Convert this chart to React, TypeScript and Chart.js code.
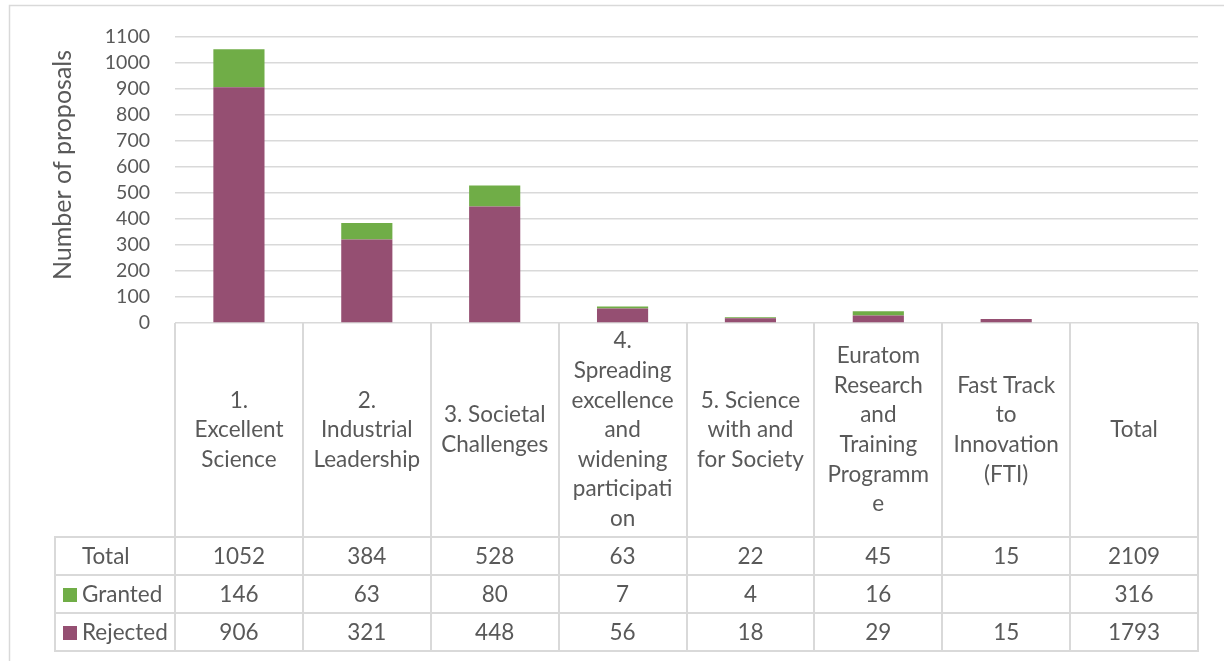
import React, { useEffect, useRef } from "react";
import { Chart, registerables } from "chart.js";

Chart.register(...registerables);

// ---- data ----
const categoryLines: string[][] = [
  ["1.", "Excellent", "Science"],
  ["2.", "Industrial", "Leadership"],
  ["3. Societal", "Challenges"],
  ["4.", "Spreading", "excellence", "and", "widening", "participati", "on"],
  ["5. Science", "with and", "for Society"],
  ["Euratom", "Research", "and", "Training", "Programm", "e"],
  ["Fast Track", "to", "Innovation", "(FTI)"],
  ["Total"],
];
const categories = categoryLines.map((l) => l.join(" "));
const totalValues: (number | null)[] = [1052, 384, 528, 63, 22, 45, 15, 2109];
const grantedValues: (number | null)[] = [146, 63, 80, 7, 4, 16, null, 316];
const rejectedValues: (number | null)[] = [906, 321, 448, 56, 18, 29, 15, 1793];
const plotted: boolean[] = [true, true, true, true, true, true, true, false];
const yTitle = "Number of proposals";
const yMin = 0;
const yMax = 1100;
const yStep = 100;

// ---- styles ----
const TEXT = "#595959";
const LINE = "#D9D9D9";
const GREEN = "#70AD47";
const PURPLE = "#954F72";
const FONT = "Lato";

const tablePlugin = {
  id: "dataTable",
  beforeDraw(chart: any) {
    const ctx = chart.ctx;
    ctx.save();
    ctx.strokeStyle = LINE;
    ctx.lineWidth = 1.5;
    ctx.strokeRect(9.5, 5.5, 1240, 700);
    ctx.restore();
  },
  afterDraw(chart: any) {
    const { ctx, chartArea } = chart;
    const x = chart.scales.x;
    const n = categories.length;
    const left = chartArea.left;
    const right = chartArea.right;
    const w = (right - left) / n;
    const top = chartArea.bottom;
    const labelBottom = top + 214;
    const rowH = 38;
    const tableLeft = 55;
    const rows = [
      { name: "Total", values: totalValues, color: null as string | null },
      { name: "Granted", values: grantedValues, color: GREEN },
      { name: "Rejected", values: rejectedValues, color: PURPLE },
    ];
    const tableBottom = labelBottom + rowH * rows.length;

    ctx.save();
    ctx.strokeStyle = LINE;
    ctx.lineWidth = 2;
    // vertical lines
    for (let i = 0; i <= n; i++) {
      const xx = Math.round(left + i * w);
      ctx.beginPath();
      ctx.moveTo(xx, top);
      ctx.lineTo(xx, tableBottom);
      ctx.stroke();
    }
    ctx.beginPath();
    ctx.moveTo(tableLeft, labelBottom);
    ctx.lineTo(tableLeft, tableBottom);
    ctx.stroke();
    // horizontal lines
    for (let r = 0; r <= rows.length; r++) {
      const yy = labelBottom + r * rowH;
      ctx.beginPath();
      ctx.moveTo(tableLeft - 1, yy);
      ctx.lineTo(right + 1, yy);
      ctx.stroke();
    }

    // category labels
    ctx.fillStyle = TEXT;
    ctx.font = `22.5px ${FONT}`;
    ctx.textAlign = "center";
    ctx.textBaseline = "middle";
    const lh = 29.6;
    const midY = (top + labelBottom) / 2;
    categoryLines.forEach((lines, i) => {
      const cx = x.getPixelForValue(i);
      const startY = midY - ((lines.length - 1) * lh) / 2;
      lines.forEach((t, j) => ctx.fillText(t, cx, startY + j * lh));
    });

    // rows
    rows.forEach((row, r) => {
      const cy = labelBottom + r * rowH + rowH / 2 + 1;
      ctx.textAlign = "left";
      ctx.fillStyle = TEXT;
      ctx.fillText(row.name, 82, cy);
      if (row.color) {
        ctx.fillStyle = row.color;
        ctx.fillRect(63, cy - 7, 14, 14);
      }
      ctx.fillStyle = TEXT;
      ctx.textAlign = "center";
      row.values.forEach((v, i) => {
        if (v === null) return;
        ctx.fillText(String(v), x.getPixelForValue(i), cy);
      });
    });

    // y-axis title
    ctx.save();
    ctx.translate(63, 165);
    ctx.rotate(-Math.PI / 2);
    ctx.font = `25px ${FONT}`;
    ctx.fillStyle = TEXT;
    ctx.textAlign = "center";
    ctx.textBaseline = "middle";
    ctx.fillText(yTitle, 0, 0);
    ctx.restore();

    ctx.restore();
  },
};

export default function App() {
  const ref = useRef<HTMLCanvasElement | null>(null);
  useEffect(() => {
    if (!ref.current) return;
    const chart = new Chart(ref.current, {
      type: "bar",
      data: {
        labels: categories,
        datasets: [
          {
            label: "Rejected",
            data: rejectedValues.map((v, i) => (plotted[i] ? v : null)),
            backgroundColor: PURPLE,
            borderWidth: 0,
          },
          {
            label: "Granted",
            data: grantedValues.map((v, i) => (plotted[i] ? v : null)),
            backgroundColor: GREEN,
            borderWidth: 0,
          },
        ],
      },
      options: {
        responsive: false,
        devicePixelRatio: 1,
        animation: false,
        layout: { padding: { left: 0, top: 33, right: 26, bottom: 338 } },
        plugins: { legend: { display: false }, tooltip: { enabled: false } },
        datasets: { bar: { barPercentage: 0.4, categoryPercentage: 1 } },
        scales: {
          x: { stacked: true, display: false },
          y: {
            stacked: true,
            min: yMin,
            max: yMax,
            afterFit: (s: any) => {
              s.width = 175;
            },
            ticks: {
              stepSize: yStep,
              autoSkip: false,
              padding: 25,
              color: TEXT,
              font: { family: FONT, size: 19.5 },
              callback: (v: any) => String(v),
            },
            grid: { color: LINE, lineWidth: 1.5, drawTicks: false },
            border: { display: false },
          },
        },
      },
      plugins: [tablePlugin],
    });
    return () => chart.destroy();
  }, []);
  return (
    <div style={{ position: "absolute", left: 0, top: 0, width: 1224, height: 661, background: "#fff" }}>
      <canvas ref={ref} width={1224} height={661} />
    </div>
  );
}
